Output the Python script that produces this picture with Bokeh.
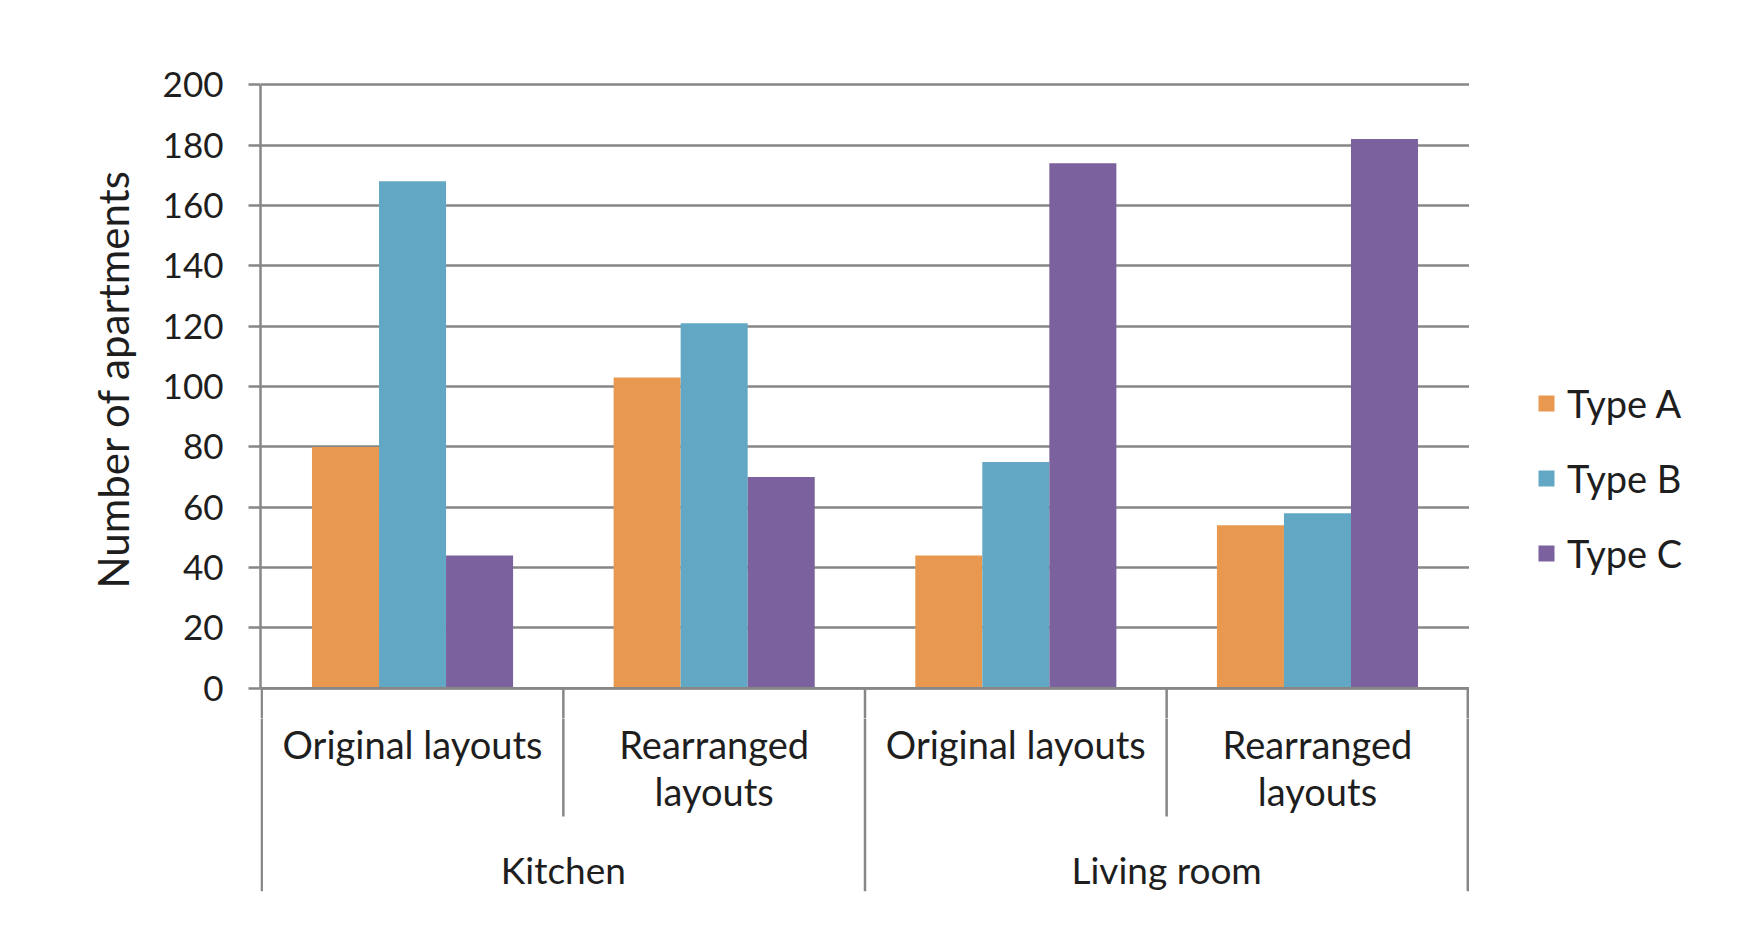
from bokeh.plotting import figure
from bokeh.layouts import row, column
from bokeh.models import (FactorRange, FixedTicker, Legend, LegendItem,
                          ColumnDataSource, Range1d, Span)
from bokeh.transform import dodge
from bokeh.core.properties import value
from bokeh.embed import file_html
from bokeh.resources import INLINE

# ---------------- data ----------------
rooms = ["Kitchen", "Living room"]
layouts = ["Original layouts", "Rearranged layouts"]
layout_text = ["Original layouts", "Rearranged\nlayouts"]
series = ["Type A", "Type B", "Type C"]
type_a = [80, 103, 44, 54]
type_b = [168, 121, 75, 58]
type_c = [44, 70, 174, 182]
y_ticks = [0, 20, 40, 60, 80, 100, 120, 140, 160, 180, 200]
y_title = "Number of apartments"

colors = ["#E8994F", "#62A8C4", "#7B619D"]
grid_col = "#878787"
text_col = "#1e1e1e"
FONT = "Lato"

factors = [(r, l) for r in rooms for l in layouts]

x_range = FactorRange(*factors, group_padding=0, subgroup_padding=0,
                      factor_padding=0, range_padding=0.004,
                      range_padding_units="absolute")

common = dict(output_backend="svg", toolbar_location=None)
y_split = -10
y_bottom = -67.3

# ---------------- main plot (bars) ----------------
p = figure(x_range=x_range, y_range=Range1d(y_split, 215),
           width=1469, height=718,
           min_border_left=260, min_border_right=0,
           min_border_top=39, min_border_bottom=0, **common)
p.outline_line_color = None
p.xaxis.visible = False
p.xgrid.visible = False

p.ygrid.ticker = FixedTicker(ticks=y_ticks)
p.ygrid.grid_line_color = grid_col
p.ygrid.grid_line_width = 2.5

ax = p.yaxis[0]
ax.ticker = FixedTicker(ticks=y_ticks)
ax.bounds = (y_ticks[0], y_ticks[-1])
ax.axis_line_color = grid_col
ax.axis_line_width = 2.5
ax.major_tick_line_color = grid_col
ax.major_tick_line_width = 2.5
ax.major_tick_out = 12
ax.major_tick_in = 0
ax.minor_tick_line_color = None
ax.major_label_text_font = FONT
ax.major_label_text_font_size = "35px"
ax.major_label_text_color = text_col
ax.major_label_standoff = 25
ax.axis_label = y_title
ax.axis_label_text_font = FONT
ax.axis_label_text_font_size = "42px"
ax.axis_label_text_font_style = "normal"
ax.axis_label_text_color = text_col
ax.axis_label_standoff = 22

src = ColumnDataSource(dict(x=factors, a=type_a, b=type_b, c=type_c))
w = 1 / 4.5
for off, col, c in zip([-w, 0, w], ["a", "b", "c"], colors):
    p.vbar(x=dodge("x", off, range=x_range), top=col, width=w,
           source=src, fill_color=c, line_color=None)

p.add_layout(Span(location=0, dimension="width", line_color=grid_col,
                  line_width=2.5, level="overlay"))

# ---------------- category axis area ----------------
q = figure(x_range=x_range, y_range=Range1d(y_bottom, y_split),
           width=1469, height=204,
           min_border_left=260, min_border_right=0,
           min_border_top=0, min_border_bottom=31,
           x_axis_type=None, y_axis_type=None, **common)
q.outline_line_color = None
q.grid.visible = False

sub_div = ColumnDataSource(dict(x=[(r, l) for r in rooms for l in layouts[1:]]))
grp_left = ColumnDataSource(dict(x=[(r, layouts[0]) for r in rooms]))
grp_right = ColumnDataSource(dict(x=[(rooms[-1], layouts[-1])]))
for fig in (p, q):
    fig.segment(x0=dodge("x", -0.5, range=x_range), y0=0,
                x1=dodge("x", -0.5, range=x_range), y1=-42.5,
                source=sub_div, line_color=grid_col, line_width=2.5)
    fig.segment(x0=dodge("x", -0.5, range=x_range), y0=0,
                x1=dodge("x", -0.5, range=x_range), y1=y_bottom,
                source=grp_left, line_color=grid_col, line_width=2.5)
    fig.segment(x0=dodge("x", 0.5, range=x_range), y0=0,
                x1=dodge("x", 0.5, range=x_range), y1=y_bottom,
                source=grp_right, line_color=grid_col, line_width=3.5)

lab_src = ColumnDataSource(dict(x=factors,
                                t=[layout_text[i % 2] for i in range(len(factors))]))
q.text(x="x", y=-10.8, text="t", source=lab_src, text_align="center",
       text_baseline="top", text_font=value(FONT), text_font_size="38px",
       text_color=text_col, text_line_height=1.03)
grp_src = ColumnDataSource(dict(x=rooms, t=rooms))
q.text(x="x", y=-60.0, text="t", source=grp_src, text_align="center",
       text_baseline="middle", text_font=value(FONT), text_font_size="37px",
       text_color=text_col)

# ---------------- legend panel ----------------
lg = figure(x_range=x_range, y_range=Range1d(0, 1), width=273, height=922,
            min_border=0, x_axis_type=None, y_axis_type=None, **common)
lg.outline_line_color = None
lg.grid.visible = False
items = []
for s, col, c in zip(series, ["a", "b", "c"], colors):
    r = lg.vbar(x="x", top=col, width=w, source=src, fill_color=c,
                line_color=None, visible=False)
    items.append(LegendItem(label=s, renderers=[r]))
legend = Legend(items=items, location=(67, 346), orientation="vertical")
legend.margin = 0
legend.padding = 0
legend.border_line_color = None
legend.background_fill_alpha = 0
legend.inactive_fill_alpha = 0
legend.glyph_width = 20
legend.glyph_height = 20
legend.label_height = 42
legend.label_standoff = 11
legend.spacing = 29
legend.label_text_font = FONT
legend.label_text_font_size = "38px"
legend.label_text_color = text_col
lg.add_layout(legend, "center")

layout = row(column(p, q, spacing=0), lg, spacing=0)
open("out.html", "w").write(file_html(layout, INLINE))
